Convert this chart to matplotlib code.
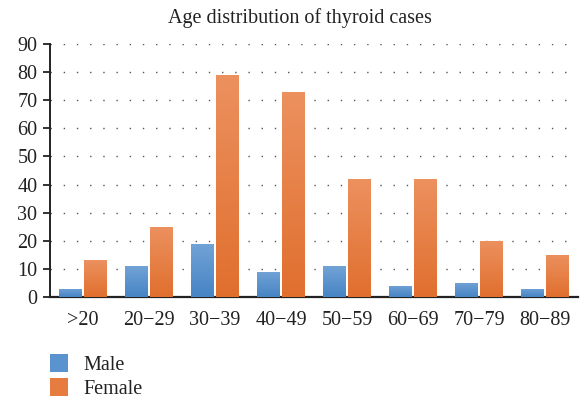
import matplotlib
matplotlib.use("Agg")
import matplotlib.pyplot as plt
import numpy as np
from matplotlib.patches import Patch

categories = [">20", "20\u221229", "30\u221239", "40\u221249", "50\u221259", "60\u221269", "70\u221279", "80\u221289"]
male = [3, 11, 19, 9, 11, 4, 5, 3]
female = [13, 25, 79, 73, 42, 42, 20, 15]
yticks = [0, 10, 20, 30, 40, 50, 60, 70, 80, 90]

plt.rcParams['font.family'] = ['Liberation Serif', 'DejaVu Serif']

fig = plt.figure(figsize=(5.8, 4.0), dpi=100)
ax = fig.add_axes([50/580, 1-297/400, 528/580, (297-44)/400])

x = np.arange(len(categories))
w = 0.335
off = 0.19

male_cols = ("#72A3D6", "#4684C4")
fem_cols = ("#EC915F", "#E06F2E")

def grad_bars(bars, top, bot):
    from matplotlib.colors import LinearSegmentedColormap
    cmap = LinearSegmentedColormap.from_list("g", [bot, top])
    grad = np.linspace(0, 1, 256).reshape(-1, 1)
    for b in bars:
        x0, y0 = b.get_x(), b.get_y()
        bw, bh = b.get_width(), b.get_height()
        b.set_facecolor("none")
        b.set_edgecolor("none")
        im = ax.imshow(grad, extent=[x0, x0 + bw, y0, y0 + bh], origin="lower",
                       aspect="auto", cmap=cmap, zorder=3)
        im.set_clip_path(b)

bm = ax.bar(x - off, male, w, zorder=3)
bf = ax.bar(x + off, female, w, zorder=3)
grad_bars(bm, *male_cols)
grad_bars(bf, *fem_cols)

fs = 14.5
ax.set_xlim(-0.5, len(categories) - 0.5)
ax.set_ylim(0, 90)
ax.set_yticks(yticks)
ax.set_xticks(x)
ax.set_xticklabels(categories, fontsize=fs, color="#222222")
ax.tick_params(axis='y', labelsize=fs, colors="#222222", length=5, width=1.3, direction='out', pad=4)
ax.tick_params(axis='x', length=0, pad=10)
ax.yaxis.grid(True, linestyle=(0, (1, 8.5)), color="#555555", linewidth=1.0)
ax.set_axisbelow(True)
for s in ["top", "right"]:
    ax.spines[s].set_visible(False)
ax.spines["left"].set_linewidth(1.4)
ax.spines["bottom"].set_linewidth(1.6)
ax.spines["left"].set_color("#222222")
ax.spines["bottom"].set_color("#222222")

fig.text(300/580, 1-18/400, "Age distribution of thyroid cases", ha="center", va="center",
         fontsize=fs, color="#222222")

handles = [Patch(facecolor="#5A93CE", edgecolor="none", label="Male"),
           Patch(facecolor="#E67C40", edgecolor="none", label="Female")]
fig.legend(handles=handles, loc="upper left", bbox_to_anchor=(50/580, 1-354/400),
           frameon=False, fontsize=fs, handlelength=0.9, handleheight=1.0,
           handletextpad=0.75, labelspacing=0.15, borderaxespad=0, borderpad=0,
           labelcolor="#222222")

fig.savefig("out.png", dpi=100)
